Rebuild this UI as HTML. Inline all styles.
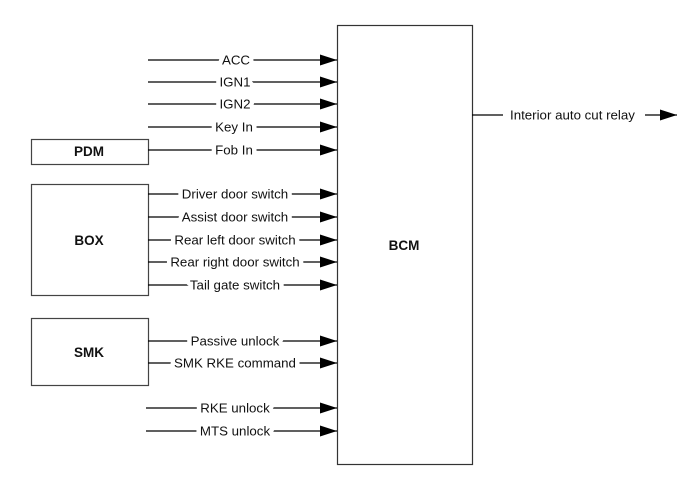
<!DOCTYPE html>
<html><head><meta charset="utf-8"><style>
html,body{margin:0;padding:0;background:#fff;}
svg{display:block;}
text{font-family:"Liberation Sans",Arial,sans-serif;font-size:13.3px;fill:#111;}
.lb{paint-order:stroke;stroke:#fff;stroke-width:9px;stroke-linejoin:round;}
.b{font-weight:bold;font-size:13.5px;}
</style></head><body>
<svg width="700" height="490" viewBox="0 0 700 490" xmlns="http://www.w3.org/2000/svg">
<defs><marker id="a" markerWidth="17" markerHeight="11" refX="17" refY="5.5" orient="auto" markerUnits="userSpaceOnUse"><path d="M0,0 L17,5.5 L0,11 Z" fill="#000"/></marker></defs>
<g fill="none" stroke="#444" stroke-width="1.2">
<rect x="337.5" y="25.5" width="135" height="439" stroke="#333"/>
<rect x="31.5" y="139.5" width="117" height="25"/>
<rect x="31.5" y="184.5" width="117" height="111"/>
<rect x="31.5" y="318.5" width="117" height="67"/>
</g>
<g stroke="#000" stroke-width="1.2" marker-end="url(#a)">
<line x1="148" y1="60" x2="337" y2="60"/>
<line x1="148" y1="82" x2="337" y2="82"/>
<line x1="148" y1="104" x2="337" y2="104"/>
<line x1="148" y1="127" x2="337" y2="127"/>
<line x1="148" y1="150" x2="337" y2="150"/>
<line x1="148" y1="194" x2="337" y2="194"/>
<line x1="148" y1="217" x2="337" y2="217"/>
<line x1="148" y1="240" x2="337" y2="240"/>
<line x1="148" y1="262" x2="337" y2="262"/>
<line x1="148" y1="285" x2="337" y2="285"/>
<line x1="148" y1="341" x2="337" y2="341"/>
<line x1="148" y1="363" x2="337" y2="363"/>
<line x1="146" y1="408" x2="337" y2="408"/>
<line x1="146" y1="431" x2="337" y2="431"/>
<line x1="645" y1="115" x2="677" y2="115"/>
</g>
<line x1="472" y1="115" x2="503" y2="115" stroke="#000" stroke-width="1.2"/>
<g text-anchor="middle">
<text class="lb" x="236" y="64.5">ACC</text>
<text class="lb" x="235" y="86.5">IGN1</text>
<text class="lb" x="235" y="108.5">IGN2</text>
<text class="lb" x="234" y="131.5">Key In</text>
<text class="lb" x="234" y="154.5">Fob In</text>
<text class="lb" x="235" y="198.5">Driver door switch</text>
<text class="lb" x="235" y="221.5">Assist door switch</text>
<text class="lb" x="235" y="244.5">Rear left door switch</text>
<text class="lb" x="235" y="266.5">Rear right door switch</text>
<text class="lb" x="235" y="289.5">Tail gate switch</text>
<text class="lb" x="235" y="345.5">Passive unlock</text>
<text class="lb" x="235" y="367.5">SMK RKE command</text>
<text class="lb" x="235" y="412.5">RKE unlock</text>
<text class="lb" x="235" y="435.5">MTS unlock</text>
</g>
<text x="510" y="119.5">Interior auto cut relay</text>
<g text-anchor="middle">
<text class="b" x="89" y="156">PDM</text>
<text class="b" x="89" y="245">BOX</text>
<text class="b" x="89" y="357">SMK</text>
<text class="b" x="404" y="250">BCM</text>
</g>
</svg>
</body></html>
